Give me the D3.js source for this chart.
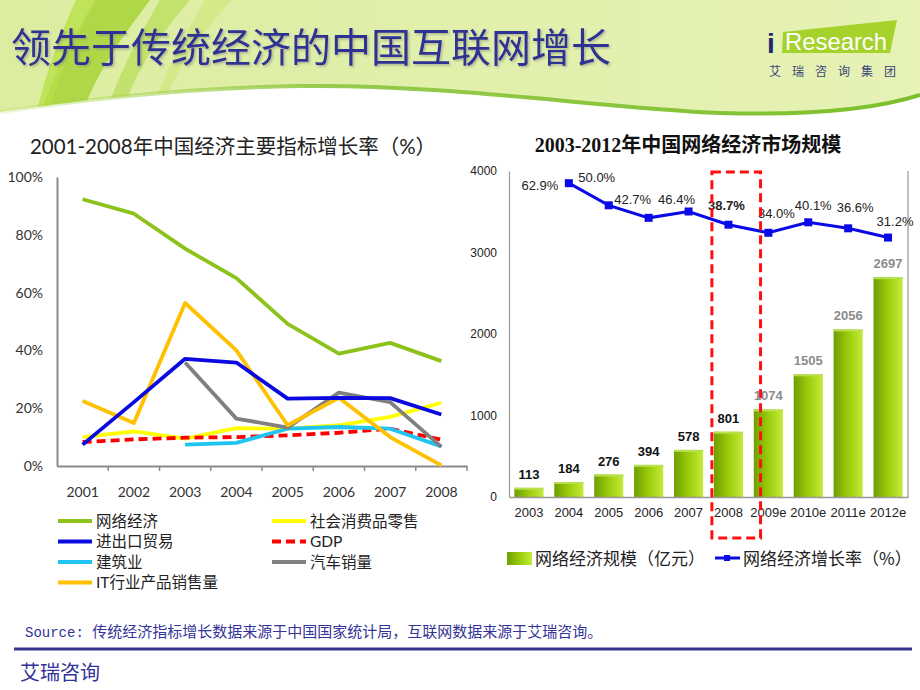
<!DOCTYPE html>
<html><head><meta charset="utf-8">
<script src="https://cdn.jsdelivr.net/npm/d3@7/dist/d3.min.js"></script>
<style>
html,body{margin:0;padding:0;background:#fff;}
svg{display:block;}
</style></head><body>
<svg id="c" width="920" height="690" font-family="Noto Sans CJK SC, sans-serif"></svg>
<script>
// ---------- data ----------
const leftYears = ["2001","2002","2003","2004","2005","2006","2007","2008"];
const netEconomy   = [92.3, 87.3, 75.2, 65.0, 49.2, 38.9, 42.6, 36.3];
const retailSales  = [10.0, 12.0, 9.5, 13.1, 12.9, 14.1, 17.0, 21.9];
const tradeGrowth  = [7.4, 22.1, 37.1, 35.8, 23.3, 23.6, 23.5, 17.8];
const gdpGrowth    = [8.3, 9.2, 9.8, 10.0, 10.6, 11.5, 12.9, 9.1];
const construction = [null, null, 7.4, 8.0, 12.9, 13.5, 12.9, 6.8];
const autoSales    = [null, null, 35.8, 16.4, 13.3, 25.4, 22.1, 6.6];
const itSales      = [22.5, 14.9, 56.4, 40.0, 14.1, 23.6, 10.0, 0.2];
const leftYTicks = [0, 20, 40, 60, 80, 100];

const rightYears = ["2003","2004","2005","2006","2007","2008","2009e","2010e","2011e","2012e"];
const marketSize = [113, 184, 276, 394, 578, 801, 1074, 1505, 2056, 2697];
const growthYears = ["2004","2005","2006","2007","2008","2009e","2010e","2011e","2012e"];
const growthRate = [62.9, 50.0, 42.7, 46.4, 38.7, 34.0, 40.1, 36.6, 31.2];
const rightYTicks = [0, 1000, 2000, 3000, 4000];

// label offsets (layout only)
const rateLabelOffset = [[-29,7],[-12,-23],[-16,-14],[-12,-7],[-2,-15],[8,-15],[5,-12],[7,-16],[7,-12]];

const CJK = "'Noto Sans CJK SC', sans-serif";
const GOTH = "Lato, 'Noto Sans CJK SC', sans-serif";
const ARIAL = "'Liberation Sans', Arial, sans-serif";

const svg = d3.select("#c");
const defs = svg.append("defs");

// ---------- header ----------
const hg = defs.append("linearGradient").attr("id","hdr").attr("x1","0").attr("y1","0").attr("x2","1").attr("y2","0");
hg.append("stop").attr("offset","0").attr("stop-color","#dcedA0");
hg.append("stop").attr("offset","1").attr("stop-color","#e6f2b6");
const edge = defs.append("linearGradient").attr("id","edge").attr("x1","0").attr("y1","0").attr("x2","1").attr("y2","0");
edge.append("stop").attr("offset","0").attr("stop-color","#a8d64a").attr("stop-opacity","0.2");
edge.append("stop").attr("offset","0.35").attr("stop-color","#8cc63f").attr("stop-opacity","0.9");
edge.append("stop").attr("offset","1").attr("stop-color","#7cbf2a").attr("stop-opacity","1");
const shadow = defs.append("filter").attr("id","tshadow").attr("x","-5%").attr("y","-20%").attr("width","110%").attr("height","150%");
shadow.append("feDropShadow").attr("dx",1.5).attr("dy",1.5).attr("stdDeviation",0.8).attr("flood-color","#777").attr("flood-opacity",0.5);

const hdrPath = "M0,0 H920 V95 C880,108 820,116 720,113 C600,108 450,84 300,86 C180,88 80,100 0,112 Z";
svg.append("path").attr("d", hdrPath).attr("fill","url(#hdr)");
defs.append("clipPath").attr("id","hclip").append("path").attr("d",hdrPath);
const stripes = svg.append("g").attr("clip-path","url(#hclip)");
stripes.append("path").attr("d","M95,0 L150,0 C120,40 95,75 82,115 L40,115 C55,70 75,35 95,0 Z").attr("fill","#9fd02a").attr("opacity",0.75);
stripes.append("path").attr("d","M76,0 L96,0 C75,40 58,75 48,115 L36,115 C45,75 60,35 76,0 Z").attr("fill","#b8e04a").attr("opacity",0.8);
stripes.append("path").attr("d","M160,0 L190,0 C160,35 135,70 122,115 L105,115 C120,70 140,35 160,0 Z").attr("fill","#b6dc55").attr("opacity",0.7);
stripes.append("path").attr("d","M205,0 L232,0 C200,35 175,70 160,115 L150,115 C165,70 185,35 205,0 Z").attr("fill","#cfe67a").attr("opacity",0.6);
svg.append("path").attr("d","M0,112 C80,100 180,88 300,86 C450,84 600,108 720,113 C820,116 880,108 920,95")
  .attr("fill","none").attr("stroke","url(#edge)").attr("stroke-width",4);

svg.append("text").attr("x",11).attr("y",62).style("font-family",CJK).attr("font-size",40).attr("fill","#2e3192")
  .attr("filter","url(#tshadow)").text("领先于传统经济的中国互联网增长");

// logo
svg.append("polygon").attr("points","783,32 897,20 890,53 782,53").attr("fill","#a6d22c");
svg.append("text").attr("x",767).attr("y",53).style("font-family",ARIAL).attr("font-weight","bold")
  .attr("font-size",28).attr("fill","#1c2a6e").text("i");
svg.append("text").attr("x",785).attr("y",50).style("font-family",ARIAL)
  .attr("font-size",24).attr("fill","#ffffff").attr("textLength",102).attr("lengthAdjust","spacingAndGlyphs").text("Research");
svg.append("text").attr("x",769).attr("y",76).style("font-family",CJK).attr("font-size",12).attr("fill","#3a4578")
  .attr("textLength",127).attr("lengthAdjust","spacing").text("艾瑞咨询集团");

// ---------- left chart ----------
const L = svg.append("g");
L.append("text").attr("x",233).attr("y",154).attr("text-anchor","middle").style("font-family",GOTH).attr("font-size",20.5)
  .attr("fill","#222").text("2001-2008年中国经济主要指标增长率（%）");

const xL = d3.scaleBand().domain(leftYears).range([57,467]).padding(0);
const yL = d3.scaleLinear().domain([0,100]).range([466,177]);

const yAxL = L.append("g").attr("transform","translate(57,0)")
  .call(d3.axisLeft(yL).tickValues(leftYTicks).tickFormat(d=>d+"%").tickSize(0).tickSizeOuter(0).tickPadding(14));
yAxL.select(".domain").attr("stroke","#8a8a8a").attr("stroke-width",2);
yAxL.selectAll("text").style("font-family",GOTH).attr("font-size",14).attr("fill","#333");

const xAxL = L.append("g").attr("transform","translate(0,466)")
  .call(d3.axisBottom(xL).tickSize(0).tickSizeOuter(0).tickPadding(21));
xAxL.select(".domain").attr("stroke","#8a8a8a").attr("stroke-width",2);
xAxL.selectAll("text").style("font-family",GOTH).attr("font-size",14).attr("fill","#333");
L.append("g").selectAll("line").data(leftYears).join("line")
  .attr("x1",(d,i)=>xL(d)+xL.step()).attr("x2",(d,i)=>xL(d)+xL.step())
  .attr("y1",466).attr("y2",471).attr("stroke","#8a8a8a").attr("stroke-width",1.5);

const seriesL = [
  {name:"网络经济", vals:netEconomy, color:"#8cc21a", dash:null},
  {name:"社会消费品零售", vals:retailSales, color:"#ffff00", dash:null},
  {name:"进出口贸易", vals:tradeGrowth, color:"#0a0ae0", dash:null},
  {name:"GDP", vals:gdpGrowth, color:"#ff0000", dash:"9,5"},
  {name:"建筑业", vals:construction, color:"#20c4f0", dash:null},
  {name:"汽车销量", vals:autoSales, color:"#808080", dash:null},
  {name:"IT行业产品销售量", vals:itSales, color:"#ffc000", dash:null}
];
const lineL = d3.line().defined(d=>d.v!=null).x(d=>xL(d.k)+xL.bandwidth()/2).y(d=>yL(d.v));
const drawOrder = [1,3,4,5,6,2,0];
drawOrder.forEach(i=>{
  const s = seriesL[i];
  L.append("path").datum(leftYears.map((k,j)=>({k, v:s.vals[j]})))
    .attr("d",lineL).attr("fill","none").attr("stroke",s.color).attr("stroke-width",3.8)
    .attr("stroke-linejoin","round").attr("stroke-dasharray",s.dash);
});

// legend left
const legL = [
  {s:0, col:0, row:0},{s:2, col:0, row:1},{s:4, col:0, row:2},{s:6, col:0, row:3},
  {s:1, col:1, row:0},{s:3, col:1, row:1},{s:5, col:1, row:2}
];
const lg = L.append("g");
legL.forEach(e=>{
  const s = seriesL[e.s];
  const x0 = e.col ? 272 : 58, yy = 521 + e.row*20.5;
  lg.append("line").attr("x1",x0).attr("x2",x0+34).attr("y1",yy).attr("y2",yy)
    .attr("stroke",s.color).attr("stroke-width",4).attr("stroke-dasharray",s.dash);
  lg.append("text").attr("x",x0+38).attr("y",yy+5.5).style("font-family",GOTH).attr("font-size",15.5).attr("fill","#222").text(s.name);
});

// ---------- right chart ----------
const R = svg.append("g");
R.append("text").attr("x",688).attr("y",152).attr("text-anchor","middle").attr("font-size",20)
  .attr("font-weight","bold").style("font-family","'Liberation Serif','Noto Sans CJK SC',serif")
  .attr("fill","#111").text("2003-2012年中国网络经济市场规模");

const xR = d3.scaleBand().domain(rightYears).range([509,908]).paddingInner(0.27).paddingOuter(0.135);
const yR = d3.scaleLinear().domain([0,4000]).range([497,171]);
const yR2 = d3.scaleLinear().domain([-120,70]).range([497,171]);

const bg = defs.append("linearGradient").attr("id","barg").attr("x1","0").attr("y1","0").attr("x2","1").attr("y2","0");
bg.append("stop").attr("offset","0").attr("stop-color","#6f9e00");
bg.append("stop").attr("offset","0.5").attr("stop-color","#9bcc0c");
bg.append("stop").attr("offset","1").attr("stop-color","#c4ec3a");

R.append("line").attr("x1",908).attr("x2",908).attr("y1",171).attr("y2",497).attr("stroke","#aaa").attr("stroke-width",1.5);

const yAxR = R.append("g").attr("transform","translate(509,0)")
  .call(d3.axisLeft(yR).tickValues(rightYTicks).tickFormat(d3.format("d")).tickSize(0).tickSizeOuter(0).tickPadding(12));
yAxR.select(".domain").attr("stroke","#999").attr("stroke-width",1.2);
yAxR.selectAll("text").style("font-family",ARIAL).attr("font-size",12).attr("fill","#222");

R.selectAll("rect.bar").data(marketSize).join("rect").attr("class","bar")
  .attr("x",(d,i)=>xR(rightYears[i])).attr("width",xR.bandwidth())
  .attr("y",d=>yR(d)).attr("height",d=>yR(0)-yR(d)).attr("fill","url(#barg)");
R.selectAll("rect.bartop").data(marketSize).join("rect").attr("class","bartop")
  .attr("x",(d,i)=>xR(rightYears[i])).attr("width",xR.bandwidth())
  .attr("y",d=>yR(d)).attr("height",2).attr("fill","#b8e050");

const xAxR = R.append("g").attr("transform","translate(0,497)")
  .call(d3.axisBottom(xR).tickSize(0).tickSizeOuter(0).tickPadding(11));
xAxR.select(".domain").attr("stroke","#999").attr("stroke-width",1.5);
xAxR.selectAll("text").style("font-family",ARIAL).attr("font-size",13).attr("fill","#222");

R.selectAll("text.bl").data(marketSize).join("text").attr("class","bl")
  .attr("x",(d,i)=>xR(rightYears[i])+xR.bandwidth()/2).attr("y",d=>yR(d)-9)
  .attr("text-anchor","middle").style("font-family",ARIAL)
  .attr("font-weight","bold").attr("font-size",13)
  .attr("fill",(d,i)=>i>=6?"#8c8c8c":"#111").text(d=>d);

// growth line
const cx = k => xR(k)+xR.bandwidth()/2;
const lineR = d3.line().x((d,i)=>cx(growthYears[i])).y(d=>yR2(d));
R.append("path").datum(growthRate).attr("d",lineR).attr("fill","none").attr("stroke","#0a0ae6").attr("stroke-width",3);
R.selectAll("rect.pt").data(growthRate).join("rect").attr("class","pt")
  .attr("x",(d,i)=>cx(growthYears[i])-4).attr("y",d=>yR2(d)-4).attr("width",8).attr("height",8).attr("fill","#0a0ae6");
R.selectAll("text.gl").data(growthRate).join("text").attr("class","gl")
  .attr("x",(d,i)=>cx(growthYears[i])+rateLabelOffset[i][0])
  .attr("y",(d,i)=>yR2(d)+rateLabelOffset[i][1])
  .attr("text-anchor","middle").style("font-family",ARIAL)
  .attr("font-size",13).attr("font-weight",(d,i)=>growthYears[i]==="2008"?"bold":"normal")
  .attr("fill","#222").text(d=>d.toFixed(1)+"%");

// highlight box for 2008
R.append("rect").attr("x",xR("2008")-2).attr("y",yR(4000)+1)
  .attr("width",xR.step()*1.22).attr("height",538-yR(4000)-1)
  .attr("fill","none").attr("stroke","#ff1010").attr("stroke-width",3).attr("stroke-dasharray","9,5");

// right legend
R.append("rect").attr("x",507).attr("y",552).attr("width",25).attr("height",13).attr("fill","url(#barg)");
R.append("text").attr("x",535).attr("y",565).style("font-family",CJK).attr("font-size",17).attr("fill","#222").text("网络经济规模（亿元）");
R.append("line").attr("x1",715).attr("x2",740).attr("y1",558).attr("y2",558).attr("stroke","#0a0ae6").attr("stroke-width",3);
R.append("rect").attr("x",724).attr("y",555).attr("width",6).attr("height",6).attr("fill","#0a0ae6");
R.append("text").attr("x",743).attr("y",565).style("font-family",CJK).attr("font-size",17).attr("fill","#222").text("网络经济增长率（%）");

// ---------- footer ----------
const src = svg.append("text").attr("x",25).attr("y",637).style("font-family",CJK).attr("font-size",15).attr("fill","#333399");
src.append("tspan").style("font-family","'Liberation Mono',monospace").attr("font-size",14).text("Source: ");
src.append("tspan").text("传统经济指标增长数据来源于中国国家统计局，互联网数据来源于艾瑞咨询。");
svg.append("line").attr("x1",14).attr("x2",912).attr("y1",649).attr("y2",649).attr("stroke","#35358f").attr("stroke-width",3);
svg.append("text").attr("x",20).attr("y",680).style("font-family",CJK).attr("font-size",20).attr("fill","#333399").text("艾瑞咨询");
</script>
</body></html>
